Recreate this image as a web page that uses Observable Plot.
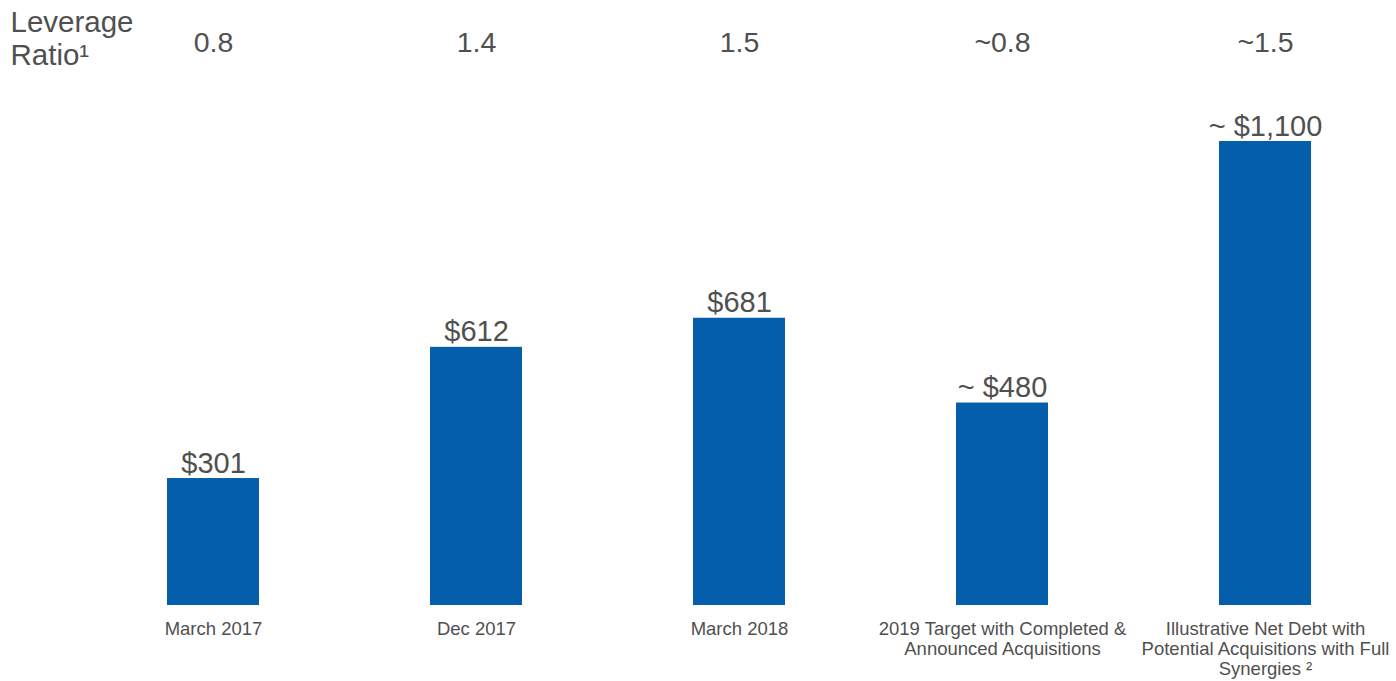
<!DOCTYPE html>
<html>
<head>
<meta charset="utf-8">
<script src="https://cdn.jsdelivr.net/npm/d3@7"></script>
<script src="https://cdn.jsdelivr.net/npm/@observablehq/plot@0.6"></script>
<style>
  html, body { margin: 0; padding: 0; background: #fff; }
  #chart svg { display: block; }
</style>
</head>
<body>
<div id="chart"></div>
<script>
const categories = [
  "March 2017",
  "Dec 2017",
  "March 2018",
  "2019 Target with Completed &\nAnnounced Acquisitions",
  "Illustrative Net Debt with\nPotential Acquisitions with Full\nSynergies ²"
];
const netDebt = [301, 612, 681, 480, 1100];
const valueLabels = ["$301", "$612", "$681", "~ $480", "~ $1,100"];
const leverage = ["0.8", "1.4", "1.5", "~0.8", "~1.5"];
const leverageTitle = "Leverage\nRatio¹";

const data = categories.map((c, i) => ({
  cat: c, value: netDebt[i], label: valueLabels[i], lev: leverage[i]
}));

const textColor = "#505050";
const font = "Liberation Sans, Arial, Helvetica, sans-serif";

const chart = Plot.plot({
  width: 1396,
  height: 681,
  marginLeft: 83,
  marginRight: 0,
  marginTop: 141,
  marginBottom: 76,
  style: { fontFamily: font, background: "#fff" },
  x: { domain: categories, paddingInner: 0.65, paddingOuter: 0.314, axis: null },
  y: { domain: [0, 1100], axis: null },
  marks: [
    Plot.barY(data, { x: "cat", y: "value", fill: "#045EAC" }),
    Plot.text(data, {
      x: "cat", y: "value", text: "label",
      lineAnchor: "bottom", dy: -6, fontSize: 29, fill: textColor
    }),
    Plot.text(data, {
      x: "cat", y: 0, text: "cat",
      lineAnchor: "top", dy: 15, fontSize: 18.5, lineHeight: 1.08, fill: textColor
    }),
    Plot.text(data, {
      x: "cat", text: "lev", frameAnchor: "top",
      lineAnchor: "middle", dy: -99, fontSize: 28.5, fill: textColor
    }),
    Plot.text([leverageTitle], {
      frameAnchor: "top-left", text: d => d, textAnchor: "start",
      lineAnchor: "top", dx: -73, dy: -133, fontSize: 29.5, lineHeight: 1.12, fill: textColor
    })
  ]
});

document.getElementById("chart").appendChild(chart);
</script>
</body>
</html>
